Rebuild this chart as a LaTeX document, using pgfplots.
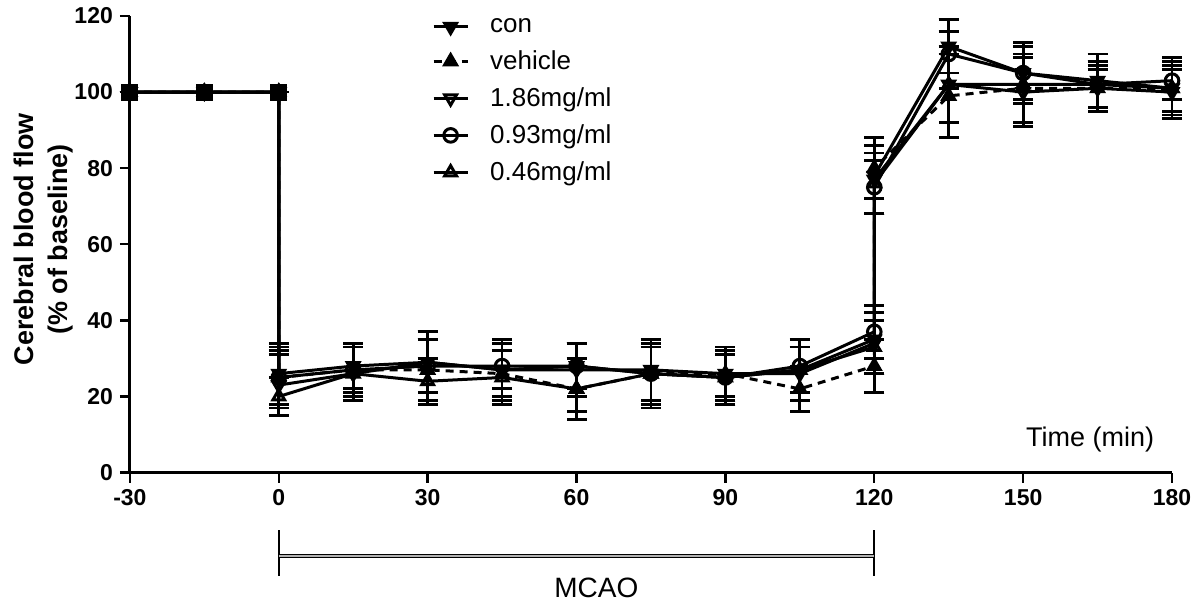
\documentclass[border=0pt]{standalone}
\usepackage{pgfplots}
\pgfplotsset{compat=1.18}
\usepackage{pgfplotstable}
\usepackage{fontspec}
\setmainfont{Liberation Sans}

\pgfplotstableread{
x y e
-30 100 0
-15 100 0
0 100 0
0 26 8
15 28 6
30 29 8
45 27 8
60 28 6
75 26 8
90 25 7
105 27 8
120 35 9
120 78 10
135 112 7
150 105 8
165 103 7
180 101 6
}\con
\pgfplotstableread{
x y e
-30 100 0
-15 100 0
0 100 0
0 25 8
15 27 7
30 27 8
45 26 8
60 22 8
75 26 9
90 26 7
105 22 6
120 28 7
120 80 8
135 99 11
150 101 9
165 101 6
180 101 7
}\veh
\pgfplotstableread{
x y e
-30 100 0
-15 100 0
0 100 0
0 23 8
15 26 7
30 29 8
45 27 7
60 27 7
75 27 8
90 26 6
105 26 7
120 34 8
120 77 9
135 102 14
150 100 9
165 101 5
180 100 6
}\dA
\pgfplotstableread{
x y e
-30 100 0
-15 100 0
0 100 0
0 25 7
15 27 6
30 28 7
45 28 6
60 28 6
75 26 7
90 25 7
105 28 7
120 37 7
120 75 7
135 110 9
150 105 7
165 102 6
180 103 5
}\dB
\pgfplotstableread{
x y e
-30 100 0
-15 100 0
0 100 0
0 20 5
15 26 7
30 24 6
45 25 7
60 22 6
75 26 7
90 25 6
105 27 6
120 33 7
120 76 8
135 102 10
150 102 10
165 102 6
180 101 8
}\dC

\begin{document}
\begin{tikzpicture}
\begin{axis}[name=ax,
  scale only axis, width=521.5pt, height=228.5pt,
  xmin=-30, xmax=180, ymin=0, ymax=120,
  axis x line=bottom, axis y line=left,
  axis line style={line width=1.5pt,-},
  xtick={-30,0,...,180}, ytick={0,20,...,120},
  tick style={line width=1.2pt, black},
  tick align=outside, major tick length=5pt,
  ticklabel style={font=\fontsize{11.5}{13}\selectfont\bfseries},
  /pgf/number format/assume math mode=true,
  clip=false,
  every axis plot/.append style={line width=1.5pt, black, mark size=3.4pt,
     error bars/y dir=both, error bars/y explicit,
     error bars/error bar style={line width=1.4pt, solid, black},
     error bars/error mark options={rotate=90, mark size=5pt, line width=1.4pt, solid, black}},
  legend style={at={(axis cs:29.6,121.6)}, anchor=north west, draw=none, fill=none,
     font=\fontsize{13}{15}\selectfont, row sep=3.6pt, column sep=8.5pt},
  legend cell align=left,
]
\addplot[mark=triangle*, mark options={rotate=180, solid, fill=black}] table[x=x,y=y,y error=e]{\con};
\addlegendentry{con}
\addplot[dashed, dash pattern=on 4pt off 3pt, mark=triangle*, mark options={solid, fill=black}] table[x=x,y=y,y error=e]{\veh};
\addlegendentry{vehicle}
\addplot[mark=triangle, mark options={rotate=180, solid, fill=white}] table[x=x,y=y,y error=e]{\dA};
\addlegendentry{1.86mg/ml}
\addplot[mark=o, mark options={solid, fill=white}] table[x=x,y=y,y error=e]{\dB};
\addlegendentry{0.93mg/ml}
\addplot[mark=triangle, mark options={solid, fill=white}] table[x=x,y=y,y error=e]{\dC};
\addlegendentry{0.46mg/ml}
\addplot[only marks, mark=square*, mark size=3.5pt, forget plot, error bars/y dir=none] coordinates {(-30,100) (-15,100) (0,100)};

\node[font=\fontsize{13.5}{15}\selectfont] at (axis cs:163.5,8.7) {Time (min)};
\draw[line width=1.2pt] (axis cs:0,-15.2) -- (axis cs:0,-27.3);
\draw[line width=1.2pt] (axis cs:120,-15.2) -- (axis cs:120,-27.3);
\draw[line width=0.5pt, double=gray!60, double distance=1pt] (axis cs:0,-22) -- (axis cs:120,-22);
\node[font=\fontsize{14}{16}\selectfont] at (axis cs:64,-30.3) {MCAO};
\end{axis}
\node[rotate=90, align=center, font=\fontsize{13.5}{17}\selectfont\bfseries] at ([shift={(-43pt,2.5pt)}]ax.west) {Cerebral blood flow\\(\% of baseline)};
\pgfresetboundingbox
\path ([shift={(-65pt,-70.5pt)}]ax.south west) rectangle ([shift={(14pt,8pt)}]ax.north east);
\end{tikzpicture}
\end{document}
